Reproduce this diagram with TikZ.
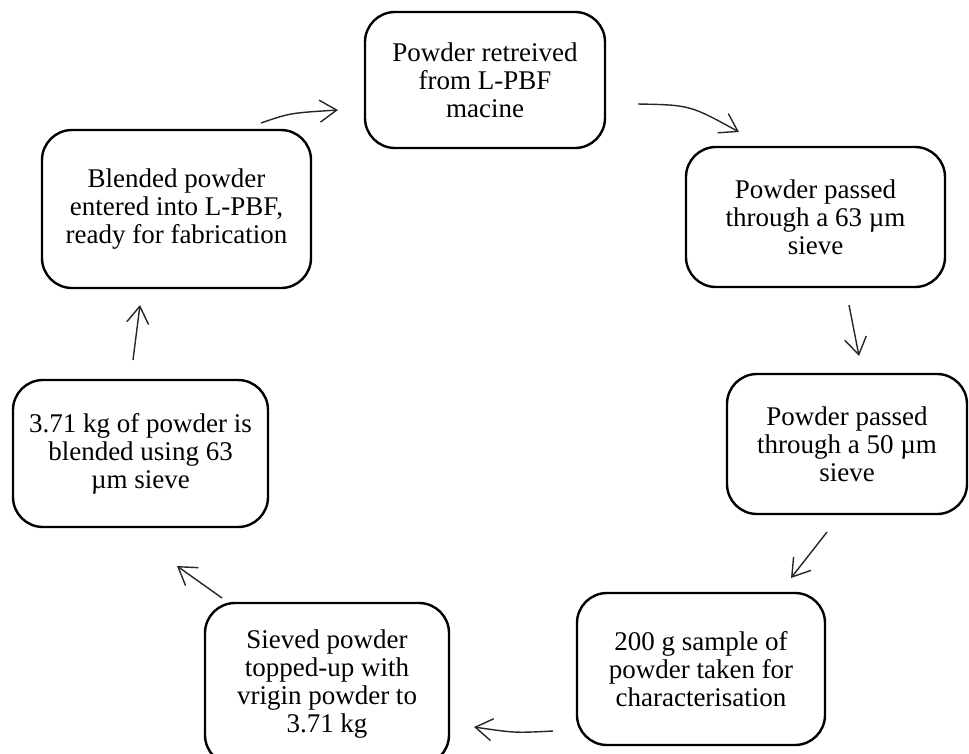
\documentclass[tikz,border=0pt]{standalone}
\usepackage{fontspec}
\setmainfont{Liberation Serif}
\usetikzlibrary{arrows.meta}
\begin{document}
\begin{tikzpicture}[x=1pt,y=-1pt,
  stepbox/.style={draw=black, line width=2.4pt, rounded corners=30pt, align=center,
    inner sep=0pt, font=\fontsize{27}{28}\selectfont},
  flow/.style={line width=1.4pt, draw=black!85, -{Straight Barb[length=17pt,width=22pt,line width=1.4pt]}}]
\useasboundingbox (0,0) rectangle (969,753);
\clip (0,0) rectangle (969,753);
\node[stepbox, minimum width=240pt, minimum height=136pt] (b1) at (485,80)
  {Powder retreived\\from L-PBF\\macine};
\node[stepbox, minimum width=259pt, minimum height=140pt] (b2) at (815.5,217)
  {Powder passed\\through a 63 µm\\sieve};
\node[stepbox, minimum width=240pt, minimum height=140pt] (b3) at (847,444)
  {Powder passed\\through a 50 µm\\sieve};
\node[stepbox, minimum width=248pt, minimum height=152pt] (b4) at (701,669)
  {200 g sample of\\powder taken for\\characterisation};
\node[stepbox, minimum width=244pt, minimum height=162pt] (b5) at (327,684)
  {Sieved powder\\topped-up with\\vrigin powder to\\3.71 kg};
\node[stepbox, minimum width=255pt, minimum height=147pt] (b6) at (140.5,453.5)
  {3.71 kg of powder is\\blended using 63\\µm sieve};
\node[stepbox, minimum width=269pt, minimum height=158pt] (b7) at (176.5,209)
  {Blended powder\\entered into L-PBF,\\ready for fabrication};
\coordinate (a1s) at (261,123); \coordinate (a1e) at (338,110);
\coordinate (a2s) at (638,104); \coordinate (a2e) at (739,132);
\coordinate (a3s) at (849,305); \coordinate (a3e) at (859,356);
\coordinate (a4s) at (827,532); \coordinate (a4e) at (791,578);
\coordinate (a5s) at (553,731); \coordinate (a5e) at (474,727);
\coordinate (a6s) at (222,598); \coordinate (a6e) at (177,566);
\coordinate (a7s) at (133,360); \coordinate (a7e) at (140,305);
\draw[flow] (a1s) .. controls (290,113) .. (a1e);
\draw[flow] (a2s) .. controls (690,105) .. (a2e);
\draw[flow] (a3s) -- (a3e);
\draw[flow] (a4s) -- (a4e);
\draw[flow] (a5s) .. controls (515,733) .. (a5e);
\draw[flow] (a6s) -- (a6e);
\draw[flow] (a7s) -- (a7e);
\end{tikzpicture}
\end{document}
